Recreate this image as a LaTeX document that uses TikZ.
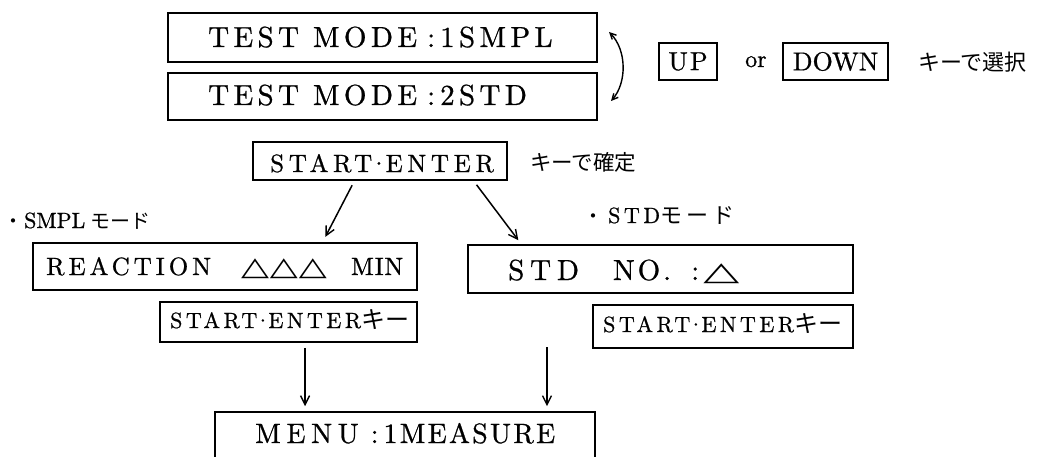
\documentclass[tikz,border=0pt]{standalone}
\usepackage{fontspec}
\newfontfamily\lmten{lmroman10-regular.otf}[FakeBold=0.8]
\newfontfamily\jp{Noto Sans CJK JP}
\newfontfamily\dv{DejaVu Sans}
\usetikzlibrary{arrows.meta,calc}
\newcommand\fs[2]{\lmten\fontsize{#1}{#1}\selectfont\addfontfeatures{LetterSpace=#2}}
\newcommand\lsp[2]{{\addfontfeatures{LetterSpace=#1}#2}}
\newcommand\jps[2]{{\jp\fontsize{#1}{#1}\selectfont #2}}
\newcommand\tri[3]{{\dv\fontsize{#1}{#1}\selectfont\scalebox{#2}[1]{#3}}}
\newcommand\cdt{\kern-3pt·\kern-3pt}
\tikzset{
  box/.style={draw, line width=1.6pt, inner sep=0pt},
  txt/.style={inner sep=0pt, anchor=base west},
  arr/.style={line width=1.5pt, -{Straight Barb[length=9pt,width=9pt,line width=1.4pt]}},
  dbl/.style={line width=1.4pt, {Straight Barb[length=6pt,width=6pt]}-{Straight Barb[length=6pt,width=6pt]}},
}
\begin{document}
\begin{tikzpicture}[x=1pt,y=-1pt]
\useasboundingbox (0,0) rectangle (1040,457);
\clip (0,0) rectangle (1040,457);
% top mode boxes
\node[box, minimum width=429, minimum height=49] (m1) at (382.5,37.5) {};
\node[txt, font=\fs{29}{15}] (t1) at (208,47) {TEST MODE\hspace{10pt}:\hspace{5pt}1SMPL};
\node[box, minimum width=429, minimum height=47] (m2) at (382.5,96.5) {};
\node[txt, font=\fs{29}{15}] (t2) at (208,105) {TEST MODE\hspace{10pt}:\hspace{5pt}2STD};
\coordinate (c1) at (609,32);
\coordinate (c2) at (611,101);
\draw[dbl] (c1) .. controls (627,50) and (627,83) .. (c2);
% keys
\node[box, minimum width=58, minimum height=37, font=\fs{26}{8}] (up) at (688,61.5) {UP};
\node[txt, font=\fs{24}{0}] (or) at (745,67) {or};
\node[box, minimum width=105, minimum height=37, font=\fs{26}{0}] (down) at (835.5,61.5) {DOWN};
\node[inner sep=0pt, anchor=west, font=\jp\fontsize{22}{22}\selectfont] (sel) at (918,62) {キーで選択};
% start enter
\node[box, minimum width=254, minimum height=38] (se) at (380,161) {};
\node[txt, font=\fs{25}{19}] (tse) at (270,172) {START\cdt ENTER};
\node[inner sep=0pt, anchor=west, font=\jp\fontsize{21.5}{22}\selectfont] (conf) at (530,162) {キーで確定};
% mode labels
\node[txt, font=\fs{22}{0}] (smplL) at (3,228) {\jps{20}{・}\hspace{1pt}SMPL\hspace{5pt}\jps{20}{モード}};
\node[txt, font=\fs{22}{0}] (stdL) at (583,223) {\jps{20}{・}\hspace{5pt}\lsp{16}{STD}\jps{22}{モ\kern4pt ー\kern4pt ド}};
% reaction / std boxes
\node[box, minimum width=384, minimum height=47] (react) at (225,266.5) {};
\node[txt, font=\fs{25}{16}] (treact) at (46,275) {REACTION\hspace{30pt}\tri{26}{1.4}{△}\kern1pt\tri{26}{1.4}{△}\kern1pt\tri{26}{1.4}{△}\hspace{24pt}\lsp{3}{MIN}};
\node[box, minimum width=385, minimum height=48] (std) at (660.5,269) {};
\node[txt, font=\fs{29}{20}] (tstd) at (508,280) {STD\hspace{34pt}\lsp{10}{NO.}\hspace{20pt}:\hspace{4pt}\tri{26}{1.8}{△}};
% start enter key boxes
\node[box, minimum width=257, minimum height=40] (seA) at (288.5,322) {};
\node[txt, font=\fs{22}{16}] (tseA) at (170,328) {START\cdt ENTER\jps{24}{キー}};
\node[box, minimum width=260, minimum height=43] (seB) at (723,326.5) {};
\node[txt, font=\fs{22}{16}] (tseB) at (603,332) {START\cdt ENTER\jps{24}{キー}};
% menu
\node[box, minimum width=380, minimum height=90] (menu) at (405,457) {};
\node[txt, font=\fs{28}{8}] (tmenu) at (255,443) {\lsp{20}{MENU}\hspace{12pt}:\hspace{5pt}1MEASURE};
% arrows
\draw[arr, shorten <=5pt, shorten >=6pt] ($(se.south west)!0.40!(se.south east)$) -- ($(react.north west)!0.753!(react.north east)$);
\draw[arr, shorten <=5pt, shorten >=5pt] ($(se.south west)!0.866!(se.south east)$) -- ($(std.north west)!0.14!(std.north east)$);
\draw[arr, shorten <=5pt, shorten >=5pt] ($(seA.south west)!0.564!(seA.south east)$) coordinate (la) -- (la |- menu.north);
\coordinate (ra) at (547,347);
\draw[arr, shorten >=5pt] (ra) -- (ra |- menu.north);
\end{tikzpicture}
\end{document}
